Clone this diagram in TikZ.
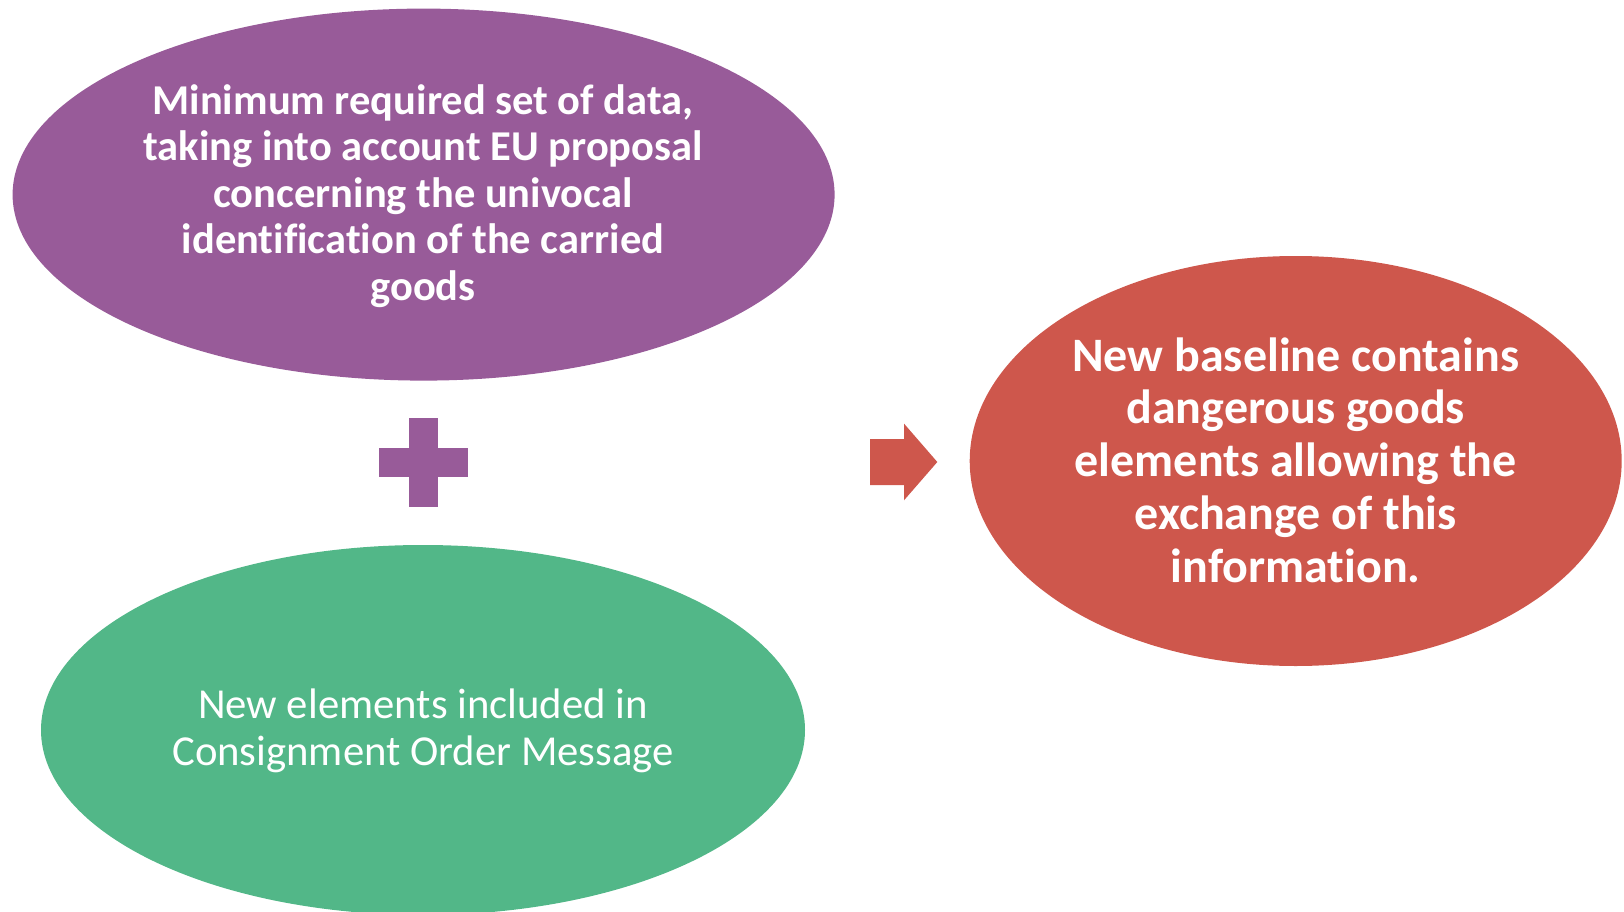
\documentclass[tikz,border=0pt]{standalone}
\usepackage{fontspec}
\setmainfont{Carlito}[Ligatures=NoCommon]
\usetikzlibrary{shapes.geometric}
\definecolor{cpurple}{RGB}{152,91,153}
\definecolor{cred}{RGB}{206,87,76}
\definecolor{cgreen}{RGB}{82,183,136}
\tikzset{
  blobtext/.style={text=white, align=center, inner sep=0pt},
}
\begin{document}
\begin{tikzpicture}[x=1pt,y=-1pt]
\useasboundingbox (0,0) rectangle (1624,912);
\begin{scope}
\clip (0,0) rectangle (1624,912);
\fill[cpurple] (423.6,194.6) ellipse [x radius=411, y radius=186];
\fill[cgreen] (423,730) ellipse [x radius=382, y radius=185];
\fill[cred] (1295.7,461) ellipse [x radius=326, y radius=205];
\end{scope}
\node[blobtext, font=\bfseries\fontsize{42.5}{46.6}\selectfont] (top) at (423,196)
  {Minimum required set of data,\\taking into account EU proposal\\concerning the univocal\\identification of the carried\\goods};
\node[blobtext, font=\fontsize{42.7}{46.6}\selectfont] (bottom) at (423,731)
  {New elements included in\\Consignment Order Message};
\node[blobtext, font=\bfseries\fontsize{48}{52.8}\selectfont] (result) at (1295.7,460)
  {New baseline contains\\dangerous goods\\elements allowing the\\exchange of this\\information.};
% plus sign
\fill[cpurple] (409,418) rectangle (438,507);
\fill[cpurple] (379,448) rectangle (468,477);
\coordinate (plus) at (423.5,462.5);
% arrow
\fill[cred] (870,439) -- (904,439) -- (904,423.6) -- (937.3,462) -- (904,500.3) -- (904,485) -- (870,485) -- cycle;
\coordinate (arrow) at (903,462);
\end{tikzpicture}
\end{document}
